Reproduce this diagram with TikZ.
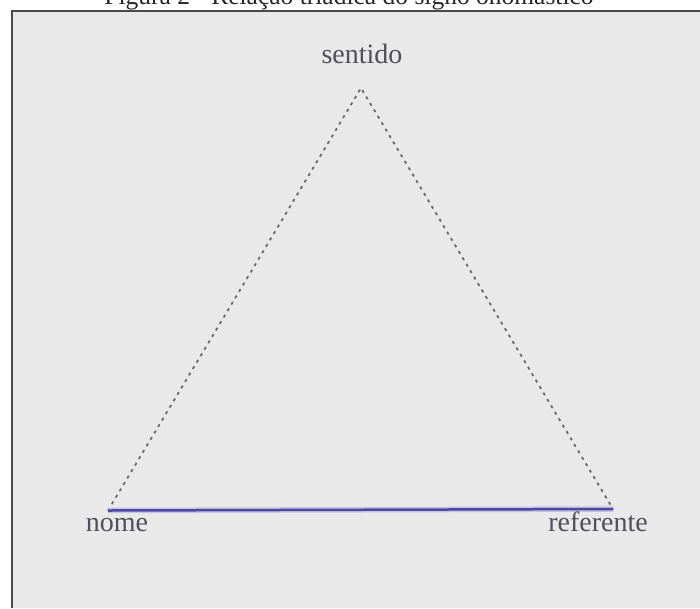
\documentclass[tikz,border=0pt]{standalone}
\usepackage{fontspec}
\setmainfont{Liberation Serif}
\definecolor{bgray}{HTML}{E9E9E9}
\definecolor{frame}{HTML}{4A4A4A}
\definecolor{lbl}{HTML}{50505A}
\definecolor{dotc}{HTML}{6A6A6A}
\definecolor{blueln}{HTML}{4A48A0}
\definecolor{bluehalo}{HTML}{C4C4E4}
\tikzset{
  lab/.style={text=lbl, font=\fontsize{28}{30}\selectfont, inner sep=0pt, anchor=base},
  ttl/.style={text=black!85, font=\fontsize{25.5}{28}\selectfont, inner sep=0pt, anchor=base},
  side/.style={draw=dotc, line width=1.8pt, dash pattern=on 3pt off 4.5pt},
}
\begin{document}
\begin{tikzpicture}[x=1pt,y=-1pt]
\clip (0,0) rectangle (700,608);
\fill[white] (0,0) rectangle (700,608);
\fill[bgray] (12,11) rectangle (700,608);
\draw[frame, line width=2pt] (12,608) -- (12,11) -- (700,11);
\node[ttl] (title) at (349,4) {Figura 2 - Relação triádica do signo onomástico};
\coordinate (A) at (361,88);
\coordinate (B) at (108,510.5);
\coordinate (C) at (613,509);
\draw[side] (B) -- (A) -- (C);
\draw[bluehalo, line width=5.5pt] (B) -- (C);
\draw[blueln, line width=2.5pt] (B) -- (C);
\node[lab] (sentido) at (362,63) {sentido};
\node[lab] (nome) at (117,531) {nome};
\node[lab] (referente) at (598,531) {referente};
\end{tikzpicture}
\end{document}
